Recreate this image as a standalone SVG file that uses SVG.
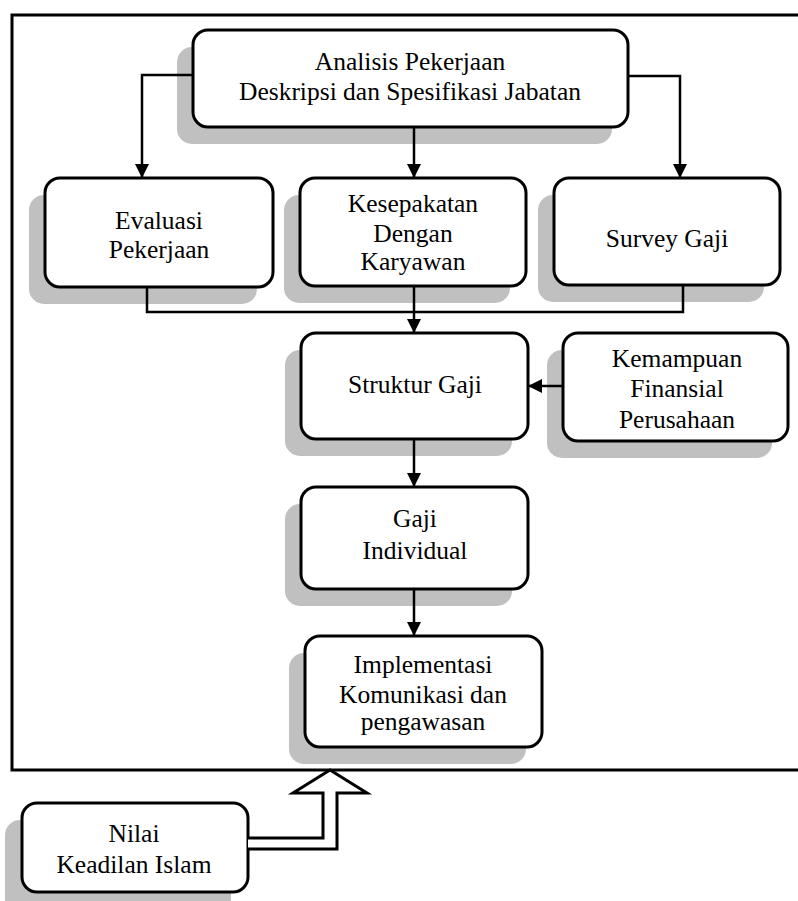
<svg xmlns="http://www.w3.org/2000/svg" width="798" height="901" viewBox="0 0 798 901">
<defs>
<style>
.box{fill:#fff;stroke:#000;stroke-width:3}
.sh{fill:#c0c0c0}
.t{font-family:"Liberation Serif","Times New Roman",serif;font-size:25.5px;fill:#000;text-anchor:middle}
.ln{fill:none;stroke:#000;stroke-width:2.5}
</style>
<marker id="ah" markerWidth="14" markerHeight="14" refX="14" refY="7" orient="auto" markerUnits="userSpaceOnUse">
<path d="M0,0 L14,7 L0,14 z" fill="#000"/>
</marker>
</defs>
<rect width="798" height="901" fill="#fff"/>
<path d="M800,15 H12 V770 H800" fill="none" stroke="#000" stroke-width="3"/>

<g id="analisis">
<rect class="sh" x="177" y="47" width="435" height="97" rx="15"/>
<rect class="box" x="193" y="30" width="435" height="97" rx="15"/>
<text class="t" x="410" y="70">Analisis Pekerjaan</text>
<text class="t" x="410" y="100">Deskripsi dan Spesifikasi Jabatan</text>
</g>

<g id="evaluasi">
<rect class="sh" x="29" y="195" width="228" height="109" rx="15"/>
<rect class="box" x="45" y="178" width="228" height="109" rx="15"/>
<text class="t" x="159" y="229">Evaluasi</text>
<text class="t" x="159" y="258">Pekerjaan</text>
</g>

<g id="kesepakatan">
<rect class="sh" x="284" y="195" width="226" height="108" rx="15"/>
<rect class="box" x="300" y="178" width="226" height="108" rx="15"/>
<text class="t" x="413" y="212">Kesepakatan</text>
<text class="t" x="413" y="242">Dengan</text>
<text class="t" x="413" y="270">Karyawan</text>
</g>

<g id="survey">
<rect class="sh" x="538" y="195" width="226" height="107" rx="15"/>
<rect class="box" x="554" y="178" width="226" height="107" rx="15"/>
<text class="t" x="667" y="247">Survey Gaji</text>
</g>

<g id="struktur">
<rect class="sh" x="285" y="350" width="227" height="106" rx="15"/>
<rect class="box" x="301" y="333" width="227" height="106" rx="15"/>
<text class="t" x="415" y="393">Struktur Gaji</text>
</g>

<g id="kemampuan">
<rect class="sh" x="547" y="350" width="225" height="108" rx="15"/>
<rect class="box" x="563" y="333" width="225" height="108" rx="15"/>
<text class="t" x="677" y="367">Kemampuan</text>
<text class="t" x="677" y="397">Finansial</text>
<text class="t" x="677" y="428">Perusahaan</text>
</g>

<g id="gaji">
<rect class="sh" x="285" y="504" width="227" height="102" rx="15"/>
<rect class="box" x="301" y="487" width="227" height="102" rx="15"/>
<text class="t" x="415" y="527">Gaji</text>
<text class="t" x="415" y="559">Individual</text>
</g>

<g id="implementasi">
<rect class="sh" x="289" y="653" width="237" height="111" rx="15"/>
<rect class="box" x="305" y="636" width="237" height="111" rx="15"/>
<text class="t" x="423" y="673">Implementasi</text>
<text class="t" x="423" y="703">Komunikasi dan</text>
<text class="t" x="423" y="730">pengawasan</text>
</g>

<g id="nilai">
<rect class="sh" x="5" y="820" width="226" height="95" rx="15"/>
<rect class="box" x="22" y="803" width="226" height="89" rx="15"/>
<text class="t" x="134" y="842">Nilai</text>
<text class="t" x="134" y="873">Keadilan Islam</text>
</g>

<g id="connectors">
<path class="ln" d="M193,75 H142 V178" marker-end="url(#ah)"/>
<path class="ln" d="M414,127 V178" marker-end="url(#ah)"/>
<path class="ln" d="M628,76 H680 V178" marker-end="url(#ah)"/>
<path class="ln" d="M147,287 V312 H683 V285"/>
<path class="ln" d="M414,286 V333" marker-end="url(#ah)"/>
<path class="ln" d="M563,386 H528" marker-end="url(#ah)"/>
<path class="ln" d="M414,439 V487" marker-end="url(#ah)"/>
<path class="ln" d="M414,589 V636" marker-end="url(#ah)"/>
<path d="M248,838 H323 V793 H293 L330,770 L367,793 H337 V849 H248" fill="#fff" stroke="#000" stroke-width="3" stroke-linejoin="miter"/>
</g>
</svg>
